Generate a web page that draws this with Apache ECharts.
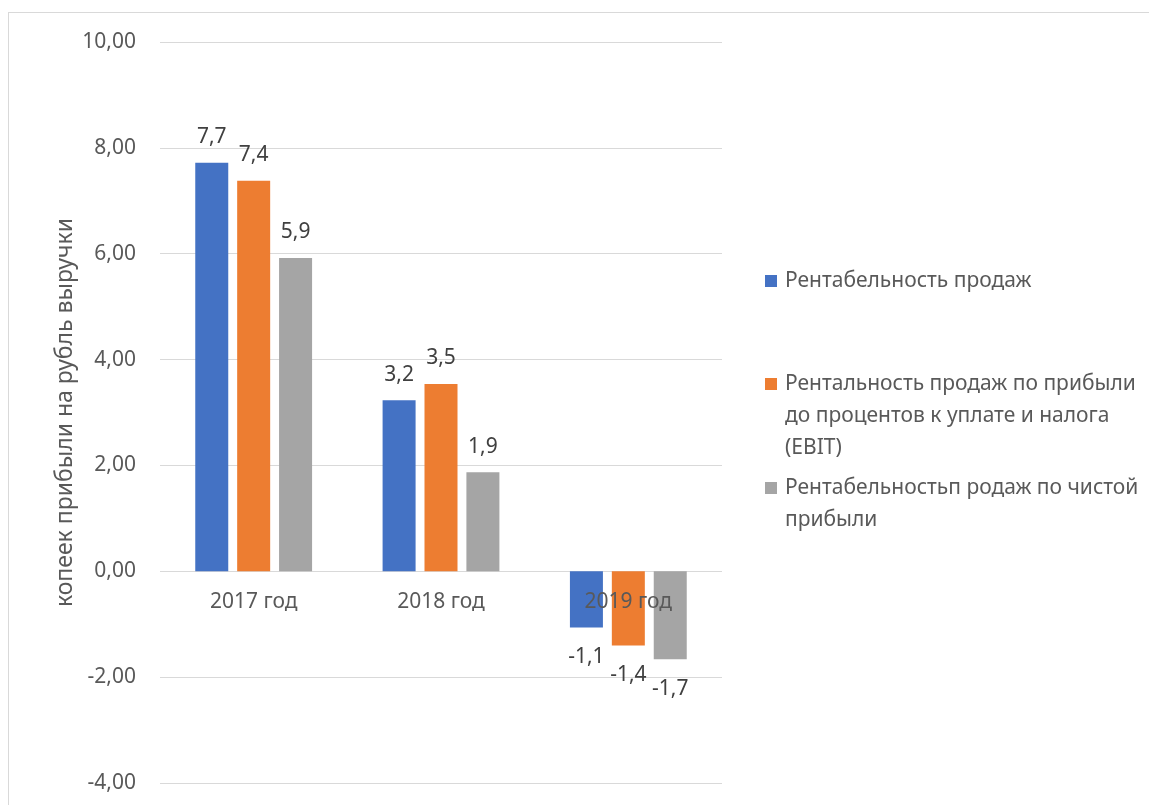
<!DOCTYPE html>
<html>
<head>
<meta charset="utf-8">
<script src="https://cdn.jsdelivr.net/npm/echarts@6/dist/echarts.min.js"></script>
<style>
  html, body { margin: 0; padding: 0; background: #fff; }
  #wrap { position: relative; width: 1149px; height: 805px; }
  #chart { width: 1149px; height: 805px; }
  #frame { position: absolute; left: 8px; top: 12px; width: 1150px; height: 800px;
           border: 1px solid #d9d9d9; pointer-events: none; }
</style>
</head>
<body>
<div id="wrap">
  <div id="chart"></div>
  <div id="frame"></div>
</div>
<script>
// данные графика
var categories = ['2017 год', '2018 год', '2019 год'];
var seriesNames = [
  'Рентабельность продаж',
  'Рентальность продаж по прибыли\nдо процентов к уплате и налога\n(EBIT)',
  'Рентабельностьп родаж по чистой\nприбыли'
];
var salesMargin = [7.72, 3.23, -1.06];
var ebitMargin = [7.38, 3.54, -1.40];
var netMargin = [5.92, 1.87, -1.66];
var yTicks = { min: -4, max: 10, interval: 2 };

var colors = ['#4472C4', '#ED7D31', '#A5A5A5'];
var font = '"Noto Sans", "Open Sans", sans-serif';
var gridTop = 42, gridBottom = 22, chartH = 805;

function comma(v, d) {
  return v.toFixed(d).replace('.', ',');
}

// метки: над столбцом для плюса, под столбцом для минуса
function withLabels(arr) {
  return arr.map(function (v) {
    return {
      value: v,
      label: v < 0 ? { position: 'bottom', distance: 19 } : { position: 'top', distance: 15 }
    };
  });
}

function makeSeries(name, data, i) {
  return {
    name: name,
    type: 'bar',
    data: withLabels(data),
    barWidth: 33,
    barGap: '27%',
    itemStyle: { color: colors[i] },
    label: {
      show: true,
      color: '#404040',
      fontSize: 21,
      fontFamily: font,
      formatter: function (p) { return comma(p.value, 1); }
    }
  };
}

// иконка-квадрат напротив первой строки подписи
function iconFor(lines) {
  if (lines === 1) return 'rect';
  var h = lines * 32;
  return 'path://M0,0h0.01v0.01h-0.01z M0,10h12v12h-12z M0,' + h + 'h0.01v-0.01h-0.01z';
}

function makeLegend(name, top, lines) {
  return {
    data: [name],
    left: 765,
    top: top,
    orient: 'vertical',
    padding: 0,
    itemWidth: 12,
    itemHeight: lines === 1 ? 12 : lines * 32,
    icon: iconFor(lines),
    selectedMode: false,
    textStyle: {
      color: '#595959',
      fontSize: 21,
      fontFamily: font,
      lineHeight: 32,
      padding: [0, 0, 0, 3]
    }
  };
}

// ось X проходит через ноль
var zeroOffset = -(chartH - gridTop - gridBottom) * (0 - yTicks.min) / (yTicks.max - yTicks.min);

var myChart = echarts.init(document.getElementById('chart'));
var options = {
  backgroundColor: '#fff',
  color: colors,
  animation: false,
  grid: { left: 160, right: 427, top: gridTop, bottom: gridBottom, containLabel: false, outerBoundsMode: 'none' },
  legend: [
    makeLegend(seriesNames[0], 265, 1),
    makeLegend(seriesNames[1], 368, 3),
    makeLegend(seriesNames[2], 472, 2)
  ],
  xAxis: {
    type: 'category',
    data: categories,
    z: 5,
    offset: zeroOffset,
    axisLine: { show: false, onZero: false },
    axisTick: { show: false },
    axisLabel: { color: '#595959', fontSize: 21, fontFamily: font, margin: 20 }
  },
  yAxis: {
    type: 'value',
    min: yTicks.min,
    max: yTicks.max,
    interval: yTicks.interval,
    name: 'копеек прибыли на рубль выручки',
    nameLocation: 'middle',
    nameGap: 83,
    nameTextStyle: { color: '#595959', fontSize: 23, fontFamily: font },
    axisLine: { show: false },
    axisTick: { show: false },
    axisLabel: {
      color: '#595959', fontSize: 21, fontFamily: font, margin: 24,
      formatter: function (v) { return comma(v, 2); }
    },
    splitLine: { lineStyle: { color: '#d9d9d9', width: 1 } }
  },
  series: [
    makeSeries(seriesNames[0], salesMargin, 0),
    makeSeries(seriesNames[1], ebitMargin, 1),
    makeSeries(seriesNames[2], netMargin, 2)
  ]
};
myChart.setOption(options);
</script>
</body>
</html>
